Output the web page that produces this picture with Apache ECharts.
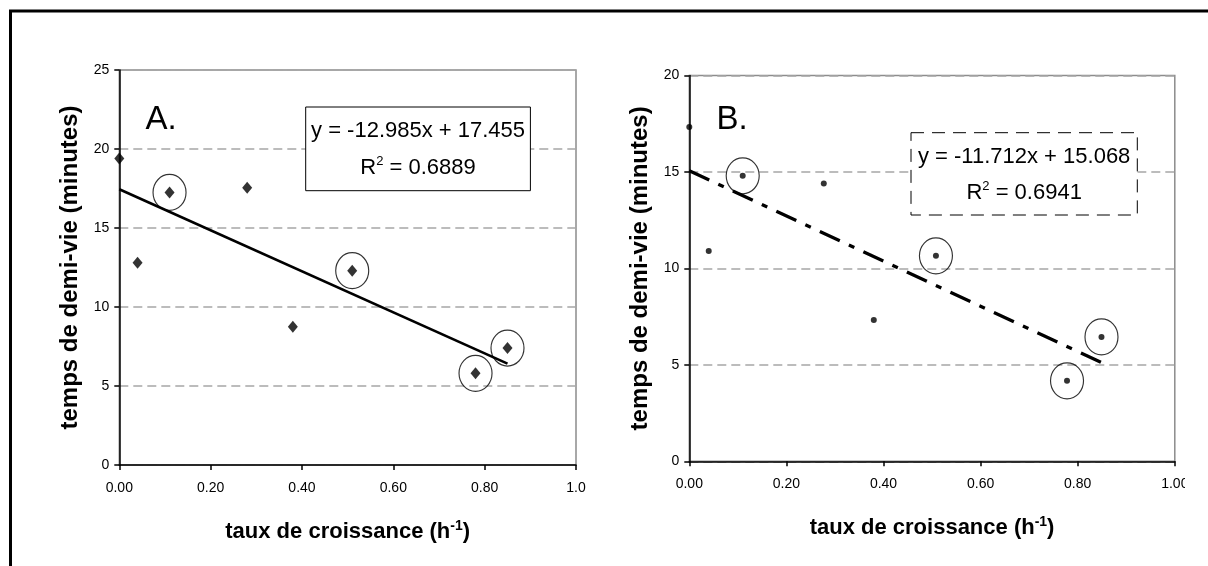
<!DOCTYPE html>
<html>
<head>
<meta charset="utf-8">
<title>temps de demi-vie / taux de croissance</title>
<script src="https://cdn.jsdelivr.net/npm/echarts@6/dist/echarts.min.js"></script>
<style>
html, body { margin: 0; padding: 0; background: #fff; }
#chart { width: 1208px; height: 566px; }
</style>
</head>
<body>
<div id="chart"></div>
<script>
// valeurs
// A : losanges
const tauxA = [0.00, 0.04, 0.11, 0.28, 0.38, 0.51, 0.78, 0.85];
const demiVieA = [19.4, 12.8, 17.25, 17.55, 8.75, 12.3, 5.8, 7.4];
// B : points
const tauxB = [0.00, 0.04, 0.11, 0.277, 0.38, 0.508, 0.778, 0.849];
const demiVieB = [17.33, 10.9, 14.8, 14.4, 7.33, 10.65, 4.17, 6.45];

// indices des points entourés
const entoursA = [2, 5, 6, 7];
const entoursB = [2, 5, 6, 7];

// droites de tendance (extrémités)
const tendanceXA = [0, 0.85];
const tendanceYA = [17.455, 6.42];
const tendanceXB = [0, 0.85];
const tendanceYB = [15.068, 5.11];

// graduations
const ticksXA = ['0.00', '0.20', '0.40', '0.60', '0.80', '1.0'];
const ticksXB = ['0.00', '0.20', '0.40', '0.60', '0.80', '1.00'];

const equationA = 'y = -12.985x + 17.455';
const r2A = '0.6889';
const equationB = 'y = -11.712x + 15.068';
const r2B = '0.6941';

const FONT = '"Liberation Sans", Arial, Helvetica, sans-serif';
const ELLIPSE = 'path://M50,0A50,50,0,1,1,50,100A50,50,0,1,1,50,0Z';

function pairs(xs, ys) {
	return xs.map((x, i) => [x, ys[i]]);
}

function xAxisDef(gridIndex, labels) {
	return {
		type: 'value',
		gridIndex: gridIndex,
		min: 0,
		max: 1,
		interval: 0.2,
		axisLine: { show: true, onZero: false, lineStyle: { color: '#000', width: 1.5 } },
		axisTick: { show: true, length: 5, lineStyle: { color: '#000', width: 1.5 } },
		axisLabel: {
			margin: 16,
			color: '#000',
			fontSize: 14,
			fontFamily: FONT,
			formatter: (v) => labels[Math.round(v / 0.2)],
		},
		splitLine: { show: false },
		name: '{a|taux de croissance (h}{s|-1}{a|)}',
		nameLocation: 'middle',
		nameGap: 54,
		nameMoveOverlap: false,
		nameTextStyle: {
			rich: {
				a: { fontSize: 22, fontWeight: 'bold', color: '#000', fontFamily: FONT, lineHeight: 26 },
				s: { fontSize: 14, fontWeight: 'bold', color: '#000', fontFamily: FONT, lineHeight: 14, verticalAlign: 'top' },
			},
		},
	};
}

function yAxisDef(gridIndex, max) {
	return {
		type: 'value',
		gridIndex: gridIndex,
		min: 0,
		max: max,
		interval: 5,
		axisLine: { show: true, onZero: false, lineStyle: { color: '#000', width: 1.5 } },
		axisTick: { show: true, length: 5, lineStyle: { color: '#000', width: 1.5 } },
		axisLabel: { margin: 10, color: '#000', fontSize: 14, fontFamily: FONT },
		splitLine: { show: true, lineStyle: { color: '#a6a6a6', width: 1.5, type: [9, 5] } },
		name: 'temps de demi-vie (minutes)',
		nameLocation: 'middle',
		nameGap: 37,
		nameMoveOverlap: false,
		nameTextStyle: { fontSize: 24, fontWeight: 'bold', color: '#000', fontFamily: FONT },
	};
}

// cercles autour des points choisis
function ellipses(xs, ys, idx, axisIndex) {
	return {
		type: 'scatter',
		xAxisIndex: axisIndex,
		yAxisIndex: axisIndex,
		symbol: ELLIPSE,
		symbolSize: [33, 36],
		silent: true,
		z: 4,
		itemStyle: { color: 'rgba(0,0,0,0)', borderColor: '#000', borderWidth: 1.2 },
		data: idx.map((i) => [xs[i], ys[i]]),
	};
}

function eqBox(left, top, w, h, dashed, eq, r2) {
	const cx = left + w / 2;
	return [
		{
			type: 'rect',
			silent: true,
			shape: { x: left, y: top, width: w, height: h },
			style: { fill: '#fff', stroke: '#000', lineWidth: 1, lineDash: dashed ? [13, 8] : null },
			z: 10,
		},
		{
			type: 'text',
			silent: true,
			z: 11,
			style: {
				x: cx, y: top + h * 0.29, text: eq, align: 'center', verticalAlign: 'middle',
				fontSize: 22, fontFamily: FONT, fill: '#000',
			},
		},
		{
			type: 'text',
			silent: true,
			z: 11,
			style: {
				x: cx, y: top + h * 0.73, align: 'center', verticalAlign: 'middle',
				text: '{n|R}{s|2}{n| = ' + r2 + '}',
				fontFamily: FONT, fill: '#000',
				rich: {
					n: { fontSize: 22, fontFamily: FONT, lineHeight: 26 },
					s: { fontSize: 13, fontFamily: FONT, lineHeight: 13, verticalAlign: 'top' },
				},
			},
		},
	];
}

const chart = echarts.init(document.getElementById('chart'), null, { renderer: 'canvas' });

const option = {
	animation: false,
	backgroundColor: '#fff',
	grid: [
		{ left: 119.3, top: 70, width: 456.7, height: 395, show: true, borderColor: '#8c8c8c', borderWidth: 1.5, outerBoundsMode: 'none' },
		{ left: 689.3, top: 75.5, width: 485.5, height: 385.8, show: true, borderColor: '#8c8c8c', borderWidth: 1.5, outerBoundsMode: 'none' },
	],
	xAxis: [xAxisDef(0, ticksXA), xAxisDef(1, ticksXB)],
	yAxis: [yAxisDef(0, 25), yAxisDef(1, 20)],
	series: [
		{
			type: 'line',
			xAxisIndex: 0,
			yAxisIndex: 0,
			symbol: 'none',
			silent: true,
			z: 2,
			lineStyle: { color: '#000', width: 2.6 },
			data: pairs(tendanceXA, tendanceYA),
		},
		{
			type: 'scatter',
			xAxisIndex: 0,
			yAxisIndex: 0,
			symbol: 'diamond',
			symbolSize: [10, 12],
			z: 3,
			itemStyle: { color: '#000' },
			data: pairs(tauxA, demiVieA),
		},
		ellipses(tauxA, demiVieA, entoursA, 0),
		{
			type: 'line',
			xAxisIndex: 1,
			yAxisIndex: 1,
			symbol: 'none',
			silent: true,
			z: 2,
			lineStyle: { color: '#000', width: 3.3, type: [22, 10, 6, 10], cap: 'butt' },
			data: pairs(tendanceXB, tendanceYB),
		},
		{
			type: 'scatter',
			xAxisIndex: 1,
			yAxisIndex: 1,
			symbol: 'circle',
			symbolSize: 6,
			z: 3,
			itemStyle: { color: '#000' },
			data: pairs(tauxB, demiVieB),
		},
		ellipses(tauxB, demiVieB, entoursB, 1),
	],
	graphic: [
		// cadre extérieur
		{
			type: 'rect',
			silent: true,
			shape: { x: 10.5, y: 11, width: 1400, height: 800 },
			style: { fill: 'none', stroke: '#000', lineWidth: 3 },
			z: 20,
		},
		{
			type: 'text',
			silent: true,
			style: { x: 145.5, y: 120, text: 'A.', fontSize: 33, fontFamily: FONT, fill: '#000', verticalAlign: 'middle' },
		},
		{
			type: 'text',
			silent: true,
			style: { x: 716.5, y: 120, text: 'B.', fontSize: 33, fontFamily: FONT, fill: '#000', verticalAlign: 'middle' },
		},
		...eqBox(305.7, 107, 224.7, 83.7, false, equationA, r2A),
		...eqBox(911, 132.7, 226.3, 82.3, true, equationB, r2B),
		// le libellé « 1.00 » est coupé par le bord de la figure
		{
			type: 'rect',
			silent: true,
			shape: { x: 1185, y: 470, width: 30, height: 40 },
			style: { fill: '#fff' },
			z: 15,
		},
	],
};

chart.setOption(option);
</script>
</body>
</html>
